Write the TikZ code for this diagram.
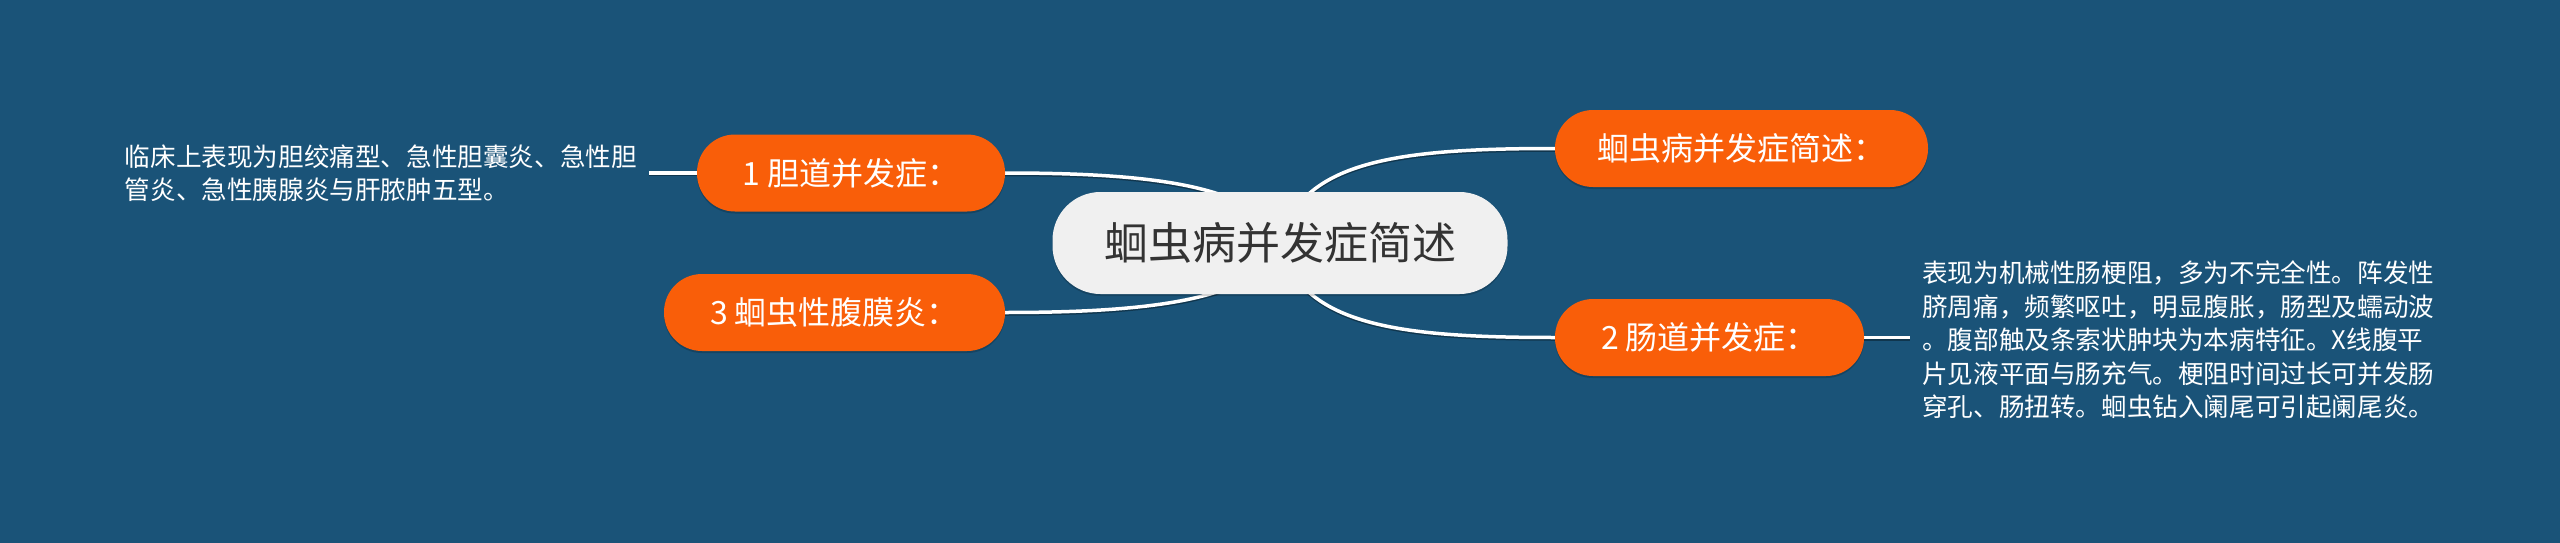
\documentclass[tikz,border=0pt]{standalone}
\usepackage{fontspec}
\setmainfont{Noto Sans CJK SC}
\usetikzlibrary{calc}
\definecolor{bgc}{RGB}{26,83,120}
\definecolor{orng}{RGB}{249,94,9}
\definecolor{cfill}{RGB}{240,240,240}
\definecolor{ctext}{RGB}{51,51,51}
\pgfdeclarelayer{bglayer}
\pgfdeclarelayer{edgelayer}
\pgfsetlayers{bglayer,edgelayer,main}
\begin{document}
\begin{tikzpicture}[x=1pt,y=-1pt,
  centralbox/.style={fill=cfill, text=ctext, rounded corners=48pt, minimum width=455pt, minimum height=102pt, inner sep=0pt, font=\fontsize{44}{50}\selectfont,
    preaction={fill=black, fill opacity=0.18, transform canvas={yshift=-2pt}}},
  branchbox/.style={fill=orng, text=white, rounded corners=38pt, minimum height=77pt, inner sep=0pt, font=\fontsize{32}{38}\selectfont,
    preaction={fill=black, fill opacity=0.18, transform canvas={yshift=-2pt}}},
  notetext/.style={text=white, align=left, inner xsep=12pt, inner ysep=0pt, font=\fontsize{25.6}{33.5}\selectfont},
  link/.style={draw=white, line width=3.5pt, preaction={draw=black, draw opacity=0.35, line width=3.5pt, transform canvas={yshift=-1.5pt}}},
]
\useasboundingbox (0,0) rectangle (2560,543);
\begin{pgfonlayer}{bglayer}
\fill[bgc] (0,0) rectangle (2560,543);
\end{pgfonlayer}

\node[centralbox] (c) at (1280,243) {蛔虫病并发症简述};
\node[branchbox, minimum width=308pt] (b1) at (851,173) {1 胆道并发症：};
\node[branchbox, minimum width=341pt] (b3) at (834.5,312.5) {3 蛔虫性腹膜炎：};
\node[branchbox, minimum width=373pt] (b0) at (1741.5,148.5) {蛔虫病并发症简述：};
\node[branchbox, minimum width=309pt] (b2) at (1709.5,337.5) {2 肠道并发症：};

\node[notetext, anchor=east] (t1) at (649,173) {临床上表现为胆绞痛型、急性胆囊炎、急性胆\\管炎、急性胰腺炎与肝脓肿五型。};
\node[notetext, anchor=west] (t2) at (1910,340) {表现为机械性肠梗阻，多为不完全性。阵发性\\脐周痛，频繁呕吐，明显腹胀，肠型及蠕动波\\。腹部触及条索状肿块为本病特征。X线腹平\\片见液平面与肠充气。梗阻时间过长可并发肠\\穿孔、肠扭转。蛔虫钻入阑尾可引起阑尾炎。};

\begin{pgfonlayer}{edgelayer}
\draw[link] (c.center) .. controls (1260,185) and (1150,173) .. (b1.east);
\draw[link] (c.center) .. controls (1260,300) and (1150,312.5) .. (b3.east);
\draw[link] (c.center) .. controls (1300,160) and (1400,148.5) .. (b0.west);
\draw[link] (c.center) .. controls (1300,326) and (1400,337.5) .. (b2.west);
\draw[link] (b1.west) -- (b1.west -| t1.east);
\draw[link] (b2.east) -- (b2.east -| t2.west);
\end{pgfonlayer}
\end{tikzpicture}
\end{document}
